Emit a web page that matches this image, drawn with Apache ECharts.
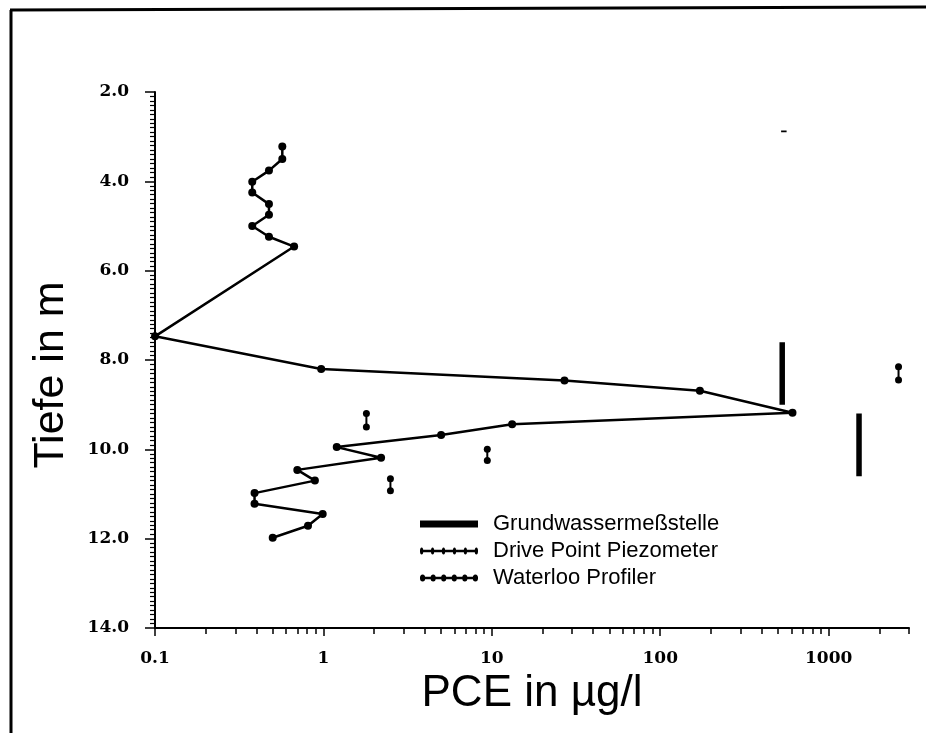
<!DOCTYPE html>
<html>
<head>
<meta charset="utf-8">
<script src="https://cdn.jsdelivr.net/npm/echarts@6/dist/echarts.min.js"></script>
<style>
  html, body { margin: 0; padding: 0; background: #fff; }
  #chart { width: 926px; height: 733px; }
</style>
</head>
<body>
<div id="chart"></div>
<script>
// ---- Data ----
const seriesNames = ['Grundwassermeßstelle', 'Drive Point Piezometer', 'Waterloo Profiler'];

// Waterloo Profiler (continuous profile)
const waterlooDepth = [3.22, 3.5, 3.76, 4.01, 4.25, 4.51, 4.75, 5.0, 5.24, 5.46,
                       7.47, 8.2, 8.46, 8.69, 9.18, 9.44, 9.68, 9.95, 10.19, 10.46,
                       10.7, 10.98, 11.22, 11.45, 11.71, 11.98];
const waterlooPCE   = [0.57, 0.57, 0.475, 0.378, 0.378, 0.475, 0.475, 0.378, 0.475, 0.67,
                       0.1, 0.97, 27, 172, 610, 13.2, 5.0, 1.2, 2.2, 0.70,
                       0.89, 0.39, 0.39, 0.99, 0.81, 0.50];

// Drive Point Piezometer (short screened intervals)
const piezoPCE    = [1.8, 9.4, 2.5, 2600];
const piezoTop    = [9.2, 10.0, 10.66, 8.15];
const piezoBottom = [9.5, 10.25, 10.93, 8.45];

// Grundwassermeßstelle (monitoring wells, screen intervals)
const wellPCE    = [542, 530, 1515];
const wellTop    = [2.86, 7.6, 9.2];
const wellBottom = [2.9, 9.0, 10.6];

// Axis ticks
const xMajorTicks = [0.1, 1, 10, 100, 1000];
const xMinorTicks = [0.2,0.3,0.4,0.5,0.6,0.7,0.8,0.9, 2,3,4,5,6,7,8,9,
                     20,30,40,50,60,70,80,90, 200,300,400,500,600,700,800,900, 2000,3000];
const yTicks = [2, 4, 6, 8, 10, 12, 14];

// ---- Build series data ----
function segments(xs, tops, bottoms) {
  const out = [];
  for (let i = 0; i < xs.length; i++) {
    out.push([xs[i], tops[i]]);
    out.push([xs[i], bottoms[i]]);
    if (i < xs.length - 1) out.push(['-', '-']);
  }
  return out;
}
const waterlooData = waterlooPCE.map((v, i) => [v, waterlooDepth[i]]);
const piezoData = segments(piezoPCE, piezoTop, piezoBottom);
const wellData = segments(wellPCE, wellTop, wellBottom);

function fmtLog(v) {
  const l = Math.round(Math.log10(v));
  return l < 0 ? v.toFixed(-l) : String(Math.round(v));
}

// Legend icon paths: a line with n dots (all sub-paths clockwise so nothing cancels)
function dottedPath(n, r, lineHalf) {
  const W = 60, H = 8, cy = H / 2;
  let p = `M0 ${cy - lineHalf} L${W} ${cy - lineHalf} L${W} ${cy + lineHalf} L0 ${cy + lineHalf} Z `;
  for (let i = 0; i < n; i++) {
    const cx = r + i * (W - 2 * r) / (n - 1);
    p += `M${cx - r} ${cy} A${r} ${r} 0 1 1 ${cx + r} ${cy} A${r} ${r} 0 1 1 ${cx - r} ${cy} Z `;
  }
  return 'path://' + p;
}

const chart = echarts.init(document.getElementById('chart'), null, { renderer: 'canvas' });
const labelFont = { fontFamily: 'DejaVu Serif', fontWeight: 'bold', fontSize: 17, color: '#000' };
const black = '#000';

chart.setOption({
  animation: false,
  backgroundColor: '#fff',
  grid: { left: 155, right: 17, top: 92, bottom: 105, containLabel: false },
  legend: {
    orient: 'vertical',
    left: 415,
    top: 508,
    itemWidth: 58,
    itemHeight: 7,
    itemGap: 5,
    symbolKeepAspect: false,
    textStyle: { fontFamily: 'Liberation Sans', fontSize: 22, color: black, lineHeight: 22, padding: [0, 0, 0, 10] },
    data: [
      { name: seriesNames[0], icon: 'rect', itemStyle: { color: black } },
      { name: seriesNames[1], icon: dottedPath(6, 1.7, 0.6), itemStyle: { color: black } },
      { name: seriesNames[2], icon: dottedPath(6, 2.7, 1.0), itemStyle: { color: black } }
    ]
  },
  xAxis: [
    {
      type: 'log', logBase: 10, min: 0.1, max: 3000,
      position: 'bottom',
      name: 'PCE in µg/l',
      nameLocation: 'middle',
      nameGap: 44,
      nameTextStyle: { fontFamily: 'Liberation Sans', fontSize: 44, color: black },
      axisLine: { show: true, lineStyle: { color: black, width: 2 } },
      axisTick: { show: true, customValues: xMajorTicks, length: 8, lineStyle: { color: black, width: 1.5 } },
      axisLabel: { show: true, customValues: xMajorTicks, formatter: fmtLog, margin: 22, ...labelFont },
      splitLine: { show: false },
      minorTick: { show: false }
    },
    {
      type: 'log', logBase: 10, min: 0.1, max: 3000,
      position: 'bottom',
      axisLine: { show: false },
      axisTick: { show: true, customValues: xMinorTicks, length: 6, lineStyle: { color: black, width: 1.5 } },
      axisLabel: { show: false },
      splitLine: { show: false }
    }
  ],
  yAxis: {
    type: 'value', inverse: true, min: 2, max: 14, interval: 2,
    name: 'Tiefe in m',
    nameLocation: 'middle',
    nameRotate: 90,
    nameGap: 82,
    nameTextStyle: { fontFamily: 'Liberation Sans', fontSize: 43, color: black, padding: [0, 30, 0, 0] },
    axisLine: { show: true, lineStyle: { color: black, width: 2 } },
    axisTick: { show: true, length: 10, lineStyle: { color: black, width: 1.5 } },
    minorTick: { show: true, splitNumber: 20, length: 5, lineStyle: { color: black, width: 1.2 } },
    axisLabel: { formatter: v => v.toFixed(1), margin: 26, ...labelFont },
    splitLine: { show: false }
  },
  series: [
    {
      name: seriesNames[0], type: 'line', xAxisIndex: 0, data: wellData,
      showSymbol: false, symbol: 'none', connectNulls: false,
      lineStyle: { color: black, width: 5.5, cap: 'butt' }, itemStyle: { color: black }
    },
    {
      name: seriesNames[1], type: 'line', xAxisIndex: 0, data: piezoData,
      symbol: 'circle', symbolSize: 7, connectNulls: false,
      lineStyle: { color: black, width: 2 }, itemStyle: { color: black }
    },
    {
      name: seriesNames[2], type: 'line', xAxisIndex: 0, data: waterlooData,
      symbol: 'circle', symbolSize: 8,
      lineStyle: { color: black, width: 2.5 }, itemStyle: { color: black }
    }
  ],
  graphic: [
    { type: 'line', shape: { x1: 11, y1: 10, x2: 11, y2: 733 }, style: { stroke: black, lineWidth: 3 } },
    { type: 'line', shape: { x1: 10, y1: 10, x2: 926, y2: 7 }, style: { stroke: black, lineWidth: 3 } }
  ]
});
</script>
</body>
</html>
